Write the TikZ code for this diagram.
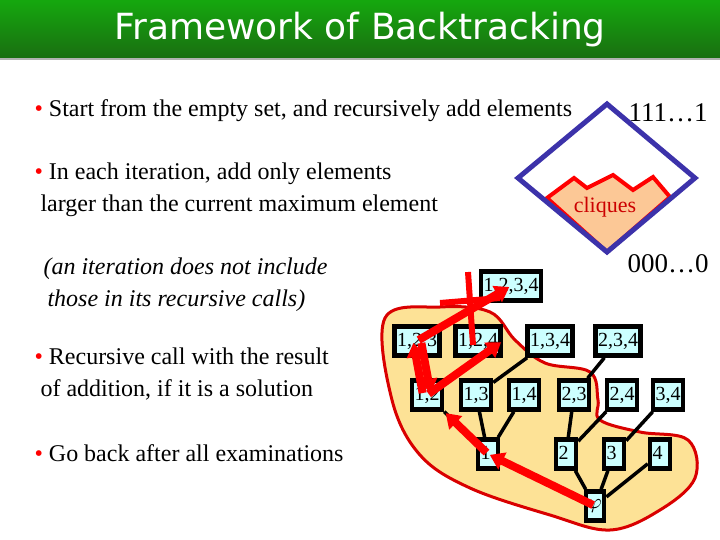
\documentclass[tikz,border=0pt]{standalone}
\usepackage{fontspec}
\setmainfont{Liberation Serif}
\newfontfamily\titlefont{DejaVu Sans}
\usetikzlibrary{arrows.meta}
\definecolor{titlegreen}{RGB}{30,130,20}
\definecolor{boxcyan}{RGB}{204,255,255}
\definecolor{blobfill}{RGB}{253,226,150}
\definecolor{peach}{RGB}{252,200,150}
\definecolor{dblue}{RGB}{60,50,170}
\tikzset{
  setbox/.style={draw, line width=4.5pt, fill=boxcyan, inner sep=2.5pt, minimum height=29pt, font=\fontsize{20}{20}\selectfont},
  tree/.style={line width=3.5pt},
  walk/.style={red, line width=8pt, -{Triangle[length=14pt,width=18pt]}, shorten >=2pt, shorten <=2pt},
  bullet/.style={anchor=west, align=left, font=\fontsize{24}{32}\selectfont}
}
\begin{document}
\begin{tikzpicture}[x=1pt,y=-1pt]
  \useasboundingbox (0,0) rectangle (720,540);
  % Titel
  \shade[top color=titlegreen!70!green, bottom color=titlegreen!85!black] (0,0) rectangle (720,58);
  \draw[gray!60, line width=2pt] (0,59) -- (720,59);
  \node[text=white, font=\titlefont\fontsize{36}{36}\selectfont] (title) at (360,30) {Framework of Backtracking};

  % Text links
  \node[bullet] (b1) at (31,111) {\textcolor{red}{\textbullet} Start from the empty set, and recursively add elements};
  \node[bullet] (b2) at (31,190) {\textcolor{red}{\textbullet} In each iteration, add only elements\\ \hspace*{6pt}larger than the current maximum element};
  \node[bullet, font=\fontsize{24}{32}\selectfont\itshape] (b3) at (40,285) {(an iteration does not include\\ \hspace*{4pt}those in its recursive calls)};
  \node[bullet] (b4) at (31,374) {\textcolor{red}{\textbullet} Recursive call with the result\\ \hspace*{6pt}of addition, if it is a solution};
  \node[bullet] (b5) at (31,453) {\textcolor{red}{\textbullet} Go back after all examinations};

  % Raute
  \filldraw[peach, draw=red, line width=4pt] (547,198) -- (574,178) -- (587,188) -- (613,175) -- (633,190) -- (653,177) -- (670,197) -- (607,252) -- cycle;
  \node[text=red!80!black, font=\fontsize{22}{22}\selectfont] (cl) at (605,207) {cliques};
  \draw[dblue, line width=5pt] (607,104) -- (695,178) -- (607,252) -- (518,178) -- cycle;
  \node[font=\fontsize{27}{27}\selectfont] (top) at (668,113) {111\dots1};
  \node[font=\fontsize{27}{27}\selectfont] (bot) at (668,264) {000\dots0};

  % Blob
  \filldraw[fill=blobfill, draw=red!85!black, line width=3pt] plot[smooth cycle, tension=0.6] coordinates {
    (385,318) (440,307) (490,312) (515,340) (545,363) (590,372) (598,400) (600,420)
    (640,432) (688,440) (695,478) (660,510) (610,530) (550,515) (470,488) (420,455) (392,400)};

  % Knoten
  \node[setbox] (n1234) at (511,286) {1,2,3,4};
  \node[setbox] (n123) at (417,341) {1,2,3};
  \node[setbox] (n124) at (478,341) {1,2,4};
  \node[setbox] (n134) at (550,341) {1,3,4};
  \node[setbox] (n234) at (618,341) {2,3,4};
  \node[setbox] (n12) at (427,395) {1,2};
  \node[setbox] (n13) at (476,395) {1,3};
  \node[setbox] (n14) at (524,395) {1,4};
  \node[setbox] (n23) at (574,395) {2,3};
  \node[setbox] (n24) at (622,395) {2,4};
  \node[setbox] (n34) at (668,395) {3,4};
  \node[setbox] (n1) at (488,454) {1\phantom{,}};
  \node[setbox] (n2) at (566,454) {2\phantom{,}};
  \node[setbox] (n3) at (614,454) {3\phantom{,}};
  \node[setbox] (n4) at (660,454) {4\phantom{,}};
  \node[setbox] (nphi) at (595,506) {$\varphi$};

  % Kanten
  \draw[tree] (nphi) -- (n1);
  \draw[tree] (nphi) -- (n2);
  \draw[tree] (nphi) -- (n3);
  \draw[tree] (nphi) -- (n4);
  \draw[tree] (n1) -- (n12);
  \draw[tree] (n1) -- (n13);
  \draw[tree] (n1) -- (n14);
  \draw[tree] (n2) -- (n23);
  \draw[tree] (n2) -- (n24);
  \draw[tree] (n3) -- (n34);
  \draw[tree] (n13) -- (n134);
  \draw[tree] (n23) -- (n234);

  % Rote Pfeile
  \draw[walk] (nphi.center) -- (n1.center);
  \draw[walk] (n1.center) -- (n12.south east);
  \draw[walk] ([xshift=-4pt]n12.center) -- ([xshift=-4pt]n123.center);
  \draw[walk] ([xshift=4pt]n123.center) -- ([xshift=4pt]n12.center);
  \draw[walk] (n12.center) -- (n124.east);
  \draw[walk] (n123.center) -- (n1234.center);
  \draw[red, line width=6pt] (468,272) -- (473,345);
  \draw[red, line width=6pt] (440,303) -- (500,298);
\end{tikzpicture}
\end{document}
